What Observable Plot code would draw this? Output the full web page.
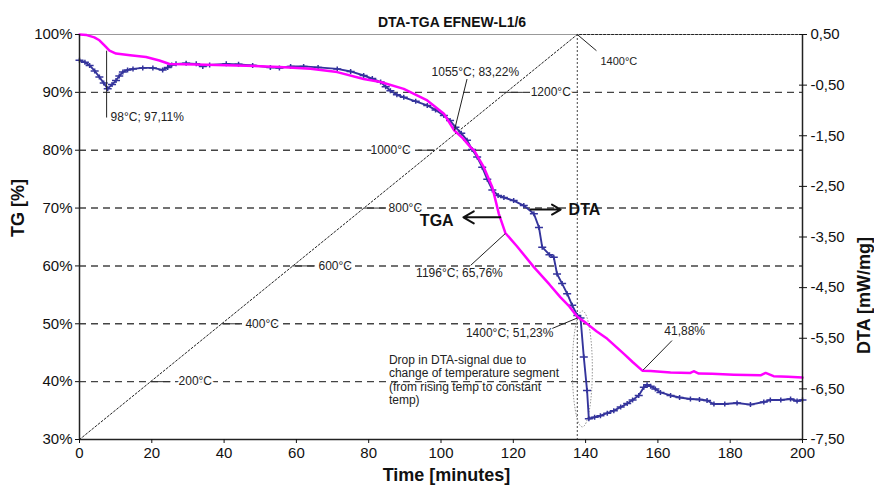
<!DOCTYPE html>
<html><head><meta charset="utf-8">
<script src="https://cdn.jsdelivr.net/npm/d3@7"></script>
<script src="https://cdn.jsdelivr.net/npm/@observablehq/plot@0.6"></script>
<style>body{margin:0;background:#fff;}</style>
</head><body><div id="chart"></div>
<script>
const title = "DTA-TGA EFNEW-L1/6";
const xLabel = "Time [minutes]";
const yLabelLeft = "TG [%]";
const yLabelRight = "DTA [mW/mg]";

const tgaTime  = [0, 2, 4.1, 5.5, 6.9, 8.3, 10.1, 14, 18.4, 22.1, 24.9, 32.3, 46, 55.3, 63.9, 71.3, 78.6, 83.3, 89.7, 96.2, 100.8, 103.7, 106, 108.2, 109.1, 111.8, 114.2, 116, 117.8, 121, 125.7, 130, 133, 135.5, 137.7, 140, 143, 146, 150.6, 153, 155.7, 158, 163.5, 169, 169.9, 171.3, 175, 181, 188.4, 189.8, 192, 196, 200];
const tgaValue = [100, 99.9, 99.5, 99.0, 98.1, 97.2, 96.7, 96.4, 96.1, 95.5, 94.9, 94.8, 94.6, 94.4, 94.1, 93.5, 92.3, 91.8, 90.6, 88.6, 86.3, 83.4, 82.1, 80.5, 80.0, 77.1, 73.6, 69.0, 65.7, 63.4, 59.8, 56.8, 54.6, 53.0, 51.2, 50.2, 48.7, 47.4, 44.8, 43.4, 41.9, 41.85, 41.6, 41.5, 41.8, 41.4, 41.35, 41.2, 41.1, 41.5, 40.95, 40.85, 40.7];

const dtaTime  = [0, 1.5, 2.8, 4.2, 5.5, 6.7, 7.8, 9, 10.1, 11, 12, 13.3, 14.8, 17.5, 20.3, 23, 24.4, 25.5, 26.7, 29.5, 32.3, 34.1, 36, 40.6, 44, 47.9, 52.8, 55.3, 58.4, 62, 66, 71.3, 75, 78.6, 81, 83.3, 84.7, 86, 87.8, 89.7, 93, 96.2, 98.5, 100.8, 102.5, 104, 105.6, 107.2, 108.6, 110, 111.4, 112.8, 114.2, 115.8, 117.4, 120.1, 122.9, 125.7, 127.1, 128, 130, 131.2, 132.1, 133.5, 134.9, 136.3, 137.7, 138.6, 139.5, 140.4, 140.9, 142.5, 144.1, 146, 147.8, 149.7, 151.5, 153, 154.7, 156.1, 157, 158, 159.3, 160.7, 163.5, 166, 169, 171.5, 173.6, 175.5, 178.5, 181.9, 185.6, 189.3, 191.1, 194, 196.7, 198.5, 200];
const dtaValue = [-0.01, -0.05, -0.11, -0.22, -0.34, -0.46, -0.57, -0.49, -0.41, -0.32, -0.24, -0.20, -0.18, -0.16, -0.16, -0.20, -0.15, -0.10, -0.08, -0.07, -0.08, -0.13, -0.10, -0.08, -0.09, -0.11, -0.15, -0.16, -0.13, -0.13, -0.15, -0.18, -0.23, -0.31, -0.37, -0.44, -0.53, -0.61, -0.69, -0.74, -0.82, -0.90, -0.99, -1.10, -1.20, -1.33, -1.45, -1.59, -1.77, -1.92, -2.12, -2.36, -2.57, -2.68, -2.72, -2.78, -2.88, -3.04, -3.31, -3.70, -3.85, -3.90, -4.23, -4.42, -4.62, -4.85, -5.05, -5.10, -5.87, -6.53, -7.09, -7.06, -7.03, -6.98, -6.93, -6.86, -6.79, -6.72, -6.63, -6.47, -6.42, -6.45, -6.50, -6.57, -6.63, -6.67, -6.70, -6.71, -6.73, -6.80, -6.80, -6.78, -6.81, -6.76, -6.72, -6.72, -6.70, -6.74, -6.72];

// temperature programme (dotted line), °C
const tempTime = [0, 137.7, 200];
const tempC = [0, 1400, 1400];

const xTicks = [0, 20, 40, 60, 80, 100, 120, 140, 160, 180, 200];
const tgTicks = [30, 40, 50, 60, 70, 80, 90, 100];
const dtaTicks = [0.5, -0.5, -1.5, -2.5, -3.5, -4.5, -5.5, -6.5, -7.5];
const gridLevels = [40, 50, 60, 70, 80, 90];

// annotations
const tempLabelText = ["200°C", "400°C", "600°C", "800°C", "1200°C"];
const tempLabelX = [27.4, 45.9, 66.1, 85.5, 124.8];
const tempLabelY = [40, 50, 60, 70, 90];
const tempLeaderX1 = [19.7, 39.3, 59.0, 78.7, 93.8, 118.0];
const tempLeaderX2 = [25.3, 44.5, 65.3, 84.6, 98.4, 122.8];
const tempLeaderY = [40, 50, 60, 70, 80, 90];

const noteText = ["1055°C; 83,22%", "1196°C; 65,76%", "1400°C; 51,23%", "41,88%"];
const noteX = [109.5, 105.1, 119.0, 167.4];
const noteY = [93.5, 58.7, 48.4, 48.7];
const leaderX1 = [7.5, 107.2, 108.2, 130.8, 163.9, 137.7];
const leaderY1 = [97.2, 92.3, 60.1, 49.2, 47.1, 100];
const leaderX2 = [7.5, 103.7, 117.8, 137.7, 155.9, 143.0];
const leaderY2 = [85.65, 83.4, 65.6, 51.0, 42.0, 97.2];

const dropNote = "Drop in DTA-signal due to\nchange of temperature segment\n(from rising temp to constant\ntemp)";

const magenta = "#ff00ff";
const blue = "#34349c";

// DTA axis mapped onto the TG axis range
const dtaToY = d => 30 + (d + 7.5) * 70 / 8;
const yToDta = y => (y - 30) * 8 / 70 - 7.5;
const fmtDta = v => { const r = Math.round(yToDta(v) * 100) / 100; return r.toFixed(2).replace(".", ","); };

const tga = tgaTime.map((t, i) => ({t, v: tgaValue[i]}));
const dta = dtaTime.map((t, i) => ({t, v: dtaToY(dtaValue[i])}));
const temp = tempTime.map((t, i) => ({t, v: 30 + tempC[i] / 20}));
const tempLabels = tempLabelText.map((s, i) => ({s, x: tempLabelX[i], y: tempLabelY[i]}));
const tempLeaders = tempLeaderX1.map((x1, i) => ({x1, x2: tempLeaderX2[i], y: tempLeaderY[i]}));
const notes = noteText.map((s, i) => ({s, x: noteX[i], y: noteY[i]}));
const leaders = leaderX1.map((x1, i) => ({x1, y1: leaderY1[i], x2: leaderX2[i], y2: leaderY2[i]}));

const marker = {draw(ctx) { ctx.moveTo(-4, 0); ctx.lineTo(4, 0); ctx.moveTo(0, -2.5); ctx.lineTo(0, 2.5); }};
const ellipse = {draw(ctx) {
  const rx = 10, ry = 58, k = 0.5523;
  ctx.moveTo(rx, 0);
  ctx.bezierCurveTo(rx, k * ry, k * rx, ry, 0, ry);
  ctx.bezierCurveTo(-k * rx, ry, -rx, k * ry, -rx, 0);
  ctx.bezierCurveTo(-rx, -k * ry, -k * rx, -ry, 0, -ry);
  ctx.bezierCurveTo(k * rx, -ry, rx, -k * ry, rx, 0);
  ctx.closePath();
}};

const chart = Plot.plot({
  width: 874,
  height: 490,
  marginTop: 34,
  marginBottom: 51,
  marginLeft: 79,
  marginRight: 72,
  style: {fontFamily: "'Liberation Sans', Arial, sans-serif", fontSize: "15px", background: "#fff", color: "#111"},
  x: {domain: [0, 200], axis: null},
  y: {domain: [30, 100], axis: null},
  marks: [
    Plot.ruleY(gridLevels, {stroke: "#444", strokeWidth: 1.4, strokeDasharray: "7,5"}),
    Plot.ruleY([100], {stroke: "#999", strokeWidth: 1}),
    // temperature programme
    Plot.line(temp, {x: "t", y: "v", stroke: "#222", strokeWidth: 1, strokeDasharray: "2,2"}),
    Plot.ruleX([tempTime[1]], {stroke: "#444", strokeWidth: 1, strokeDasharray: "2,2"}),
    Plot.ruleY(tempLeaders, {x1: "x1", x2: "x2", y: "y", stroke: "#333", strokeWidth: 1}),
    Plot.text(tempLabels, {x: "x", y: "y", text: "s", textAnchor: "start", fontSize: 12, fill: "#222", stroke: "white", strokeWidth: 4, paintOrder: "stroke"}),
    Plot.text(["1000°C"], {x: 91.6, y: 80, textAnchor: "end", fontSize: 12, fill: "#222", stroke: "white", strokeWidth: 4, paintOrder: "stroke"}),
    Plot.text(["1400°C"], {x: 144.1, y: 95.3, textAnchor: "start", fontSize: 11, fill: "#222"}),
    // ellipse around the drop
    Plot.dot([{x: 139.1, y: 42.2}], {x: "x", y: "y", symbol: ellipse, r: 5, fill: "none", stroke: "#999", strokeWidth: 1, strokeDasharray: "1.5,1.5"}),
    // series
    Plot.line(dta, {x: "t", y: "v", stroke: blue, strokeWidth: 1.9}),
    Plot.dot(dta, {x: "t", y: "v", symbol: marker, r: 3, fill: "none", stroke: blue, strokeWidth: 1.5}),
    Plot.line(tga, {x: "t", y: "v", stroke: magenta, strokeWidth: 2.5}),
    // axis lines
    Plot.ruleX([0], {stroke: "#222", strokeWidth: 1.5}),
    Plot.ruleX([200], {stroke: "#222", strokeWidth: 1.5}),
    Plot.ruleY([30], {stroke: "#222", strokeWidth: 1.5}),
    // annotations
    Plot.link(leaders, {x1: "x1", y1: "y1", x2: "x2", y2: "y2", stroke: "#222", strokeWidth: 1}),
    Plot.text(["98°C; 97,11%"], {x: 8.6, y: 85.8, textAnchor: "start", fontSize: 12, fill: "#222"}),
    Plot.text(notes, {x: "x", y: "y", text: "s", textAnchor: "middle", fontSize: 12, fill: "#222"}),
    Plot.text([dropNote], {x: 85.6, y: 44.7, textAnchor: "start", lineAnchor: "top", lineHeight: 1.11, fontSize: 12, fill: "#222"}),
    Plot.arrow([{x1: 116.4, y1: 68.4, x2: 106.2, y2: 68.4}], {x1: "x1", y1: "y1", x2: "x2", y2: "y2", stroke: "#111", strokeWidth: 2, headLength: 9}),
    Plot.arrow([{x1: 124.8, y1: 69.75, x2: 133.1, y2: 69.75}], {x1: "x1", y1: "y1", x2: "x2", y2: "y2", stroke: "#111", strokeWidth: 2, headLength: 9}),
    Plot.text(["TGA"], {x: 103.5, y: 67.85, textAnchor: "end", fontSize: 16, fontWeight: "bold", fill: "#111"}),
    Plot.text(["DTA"], {x: 135.3, y: 69.75, textAnchor: "start", fontSize: 16, fontWeight: "bold", fill: "#111"}),
    // axes
    Plot.axisX({ticks: xTicks, tickSize: 4, tickPadding: 4, label: null, tickFormat: d => String(d)}),
    Plot.axisY({anchor: "left", ticks: tgTicks, tickSize: 4, tickPadding: 3, label: null, tickFormat: d => d + "%"}),
    Plot.axisY({anchor: "right", ticks: dtaTicks.map(dtaToY), tickSize: 8, dx: -4, tickPadding: 4, label: null, tickFormat: fmtDta}),
    // titles
    Plot.text([title], {frameAnchor: "top", dy: -17, dx: 11, fontSize: 14, fontWeight: "bold", fill: "#111"}),
    Plot.text([yLabelLeft], {frameAnchor: "left", dx: -61, rotate: -90, fontSize: 18, fontWeight: "bold", fill: "#111"}),
    Plot.text([yLabelRight], {frameAnchor: "right", dx: 62, rotate: -90, fontSize: 18, fontWeight: "bold", fill: "#111"}),
    Plot.text([xLabel], {frameAnchor: "bottom", dy: 41, dx: 5.5, fontSize: 18, fontWeight: "bold", fill: "#111"})
  ]
});
document.getElementById("chart").appendChild(chart);
</script>
</body></html>
